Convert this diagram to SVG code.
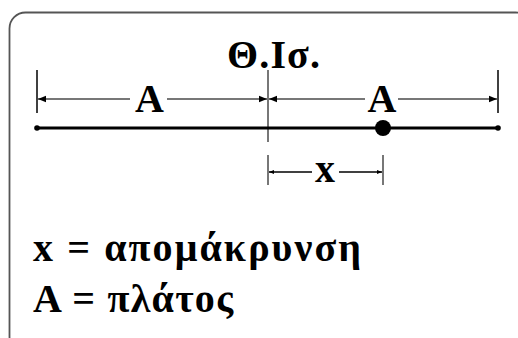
<svg xmlns="http://www.w3.org/2000/svg" width="518" height="338" viewBox="0 0 518 338">
<style>
.t{font-family:"Liberation Serif","DejaVu Serif","Times New Roman",serif;font-weight:bold;fill:#000}
.dim{stroke:#777;stroke-width:2;fill:none}
.tick{stroke:#000;stroke-width:1.5}
.gtick{stroke:#777;stroke-width:2}
</style>
<defs>
<marker id="ah" viewBox="0 0 10 10" refX="10" refY="5" markerWidth="4" markerHeight="4" orient="auto-start-reverse" markerUnits="strokeWidth">
<path d="M0,1 L10,5 L0,9 Z" fill="#000"/>
</marker>
</defs>
<rect id="frame" x="9.5" y="12.5" width="522" height="340" rx="16" fill="#fff" stroke="#555" stroke-width="1.8"/>
<g id="title"><text class="t" x="227" y="68" font-size="40" textLength="93" lengthAdjust="spacing">Θ.Ισ.</text></g>
<g id="connectors">
<line class="tick" x1="37" y1="70" x2="37" y2="113"/>
<line class="gtick" x1="268" y1="70" x2="268" y2="142"/>
<line class="tick" x1="498" y1="70" x2="498" y2="113"/>
<line class="dim" x1="130" y1="99" x2="38" y2="99" marker-end="url(#ah)"/>
<line class="dim" x1="167" y1="99" x2="267" y2="99" marker-end="url(#ah)"/>
<line class="dim" x1="365" y1="99" x2="269" y2="99" marker-end="url(#ah)"/>
<line class="dim" x1="398" y1="99" x2="497" y2="99" marker-end="url(#ah)"/>
<line x1="37" y1="128" x2="498" y2="128" stroke="#000" stroke-width="3"/>
<circle cx="37" cy="128" r="2.8" fill="#000"/>
<circle cx="498" cy="128" r="2.8" fill="#000"/>
<line class="gtick" x1="268" y1="155" x2="268" y2="185"/>
<line class="gtick" x1="383" y1="155" x2="383" y2="185"/>
<line x1="312" y1="172" x2="269" y2="172" stroke="#000" stroke-width="1.3" marker-end="url(#ah)"/>
<line x1="339" y1="172" x2="382" y2="172" stroke="#000" stroke-width="1.3" marker-end="url(#ah)"/>
</g>
<g id="labelA1"><text class="t" x="149.5" y="112" font-size="40" text-anchor="middle">A</text></g>
<g id="labelA2"><text class="t" x="382" y="112" font-size="40" text-anchor="middle">A</text></g>
<g id="mass"><circle cx="383" cy="128" r="8" fill="#000"/></g>
<g id="labelx"><text class="t" x="325" y="182" font-size="40" text-anchor="middle">x</text></g>
<g id="legend">
<text class="t" x="33" y="261" font-size="40" textLength="328" lengthAdjust="spacing">x = απομάκρυνση</text>
<text class="t" x="33" y="312" font-size="40" textLength="200" lengthAdjust="spacing">A = πλάτος</text>
</g>
</svg>
